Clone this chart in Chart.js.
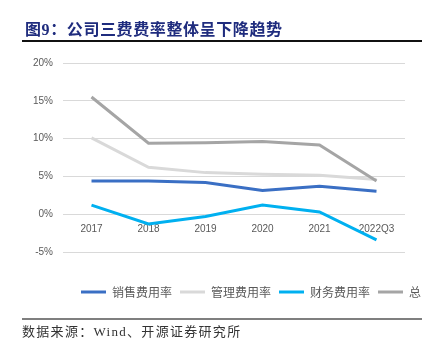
<!DOCTYPE html>
<html>
<head>
<meta charset="utf-8">
<script src="https://cdn.jsdelivr.net/npm/chart.js@4"></script>
<style>
  html, body { margin: 0; padding: 0; background: #fff; width: 422px; height: 356px; overflow: hidden; }
  #wrap { position: relative; width: 422px; height: 356px; }
  #chart { position: absolute; left: 0; top: 0; width: 422px; height: 356px; }
  #title { position: absolute; left: 25px; top: 19px; font-family: "Liberation Serif", "Noto Sans CJK SC", serif; font-weight: bold; font-size: 16px; line-height: 22px; color: #1F2C7E; letter-spacing: 0.6px; white-space: nowrap; }
  #tline { position: absolute; left: 22px; top: 40px; width: 400px; height: 1.5px; background: #111; }
  #fline { position: absolute; left: 22px; top: 318px; width: 400px; height: 1.5px; background: #7f7f7f; }
  #foot { position: absolute; left: 22px; top: 323px; font-family: "Liberation Serif", "Noto Sans CJK SC", serif; font-size: 13px; line-height: 18px; color: #333; letter-spacing: 1.3px; white-space: nowrap; }
</style>
</head>
<body>
<div id="wrap">
  <canvas id="chart" width="422" height="356"></canvas>
  <div id="title">图9：公司三费费率整体呈下降趋势</div>
  <div id="tline"></div>
  <div id="fline"></div>
  <div id="foot">数据来源：Wind、开源证券研究所</div>
</div>
<script>
const categories = ['2017', '2018', '2019', '2020', '2021', '2022Q3'];
const seriesNames = ['销售费用率', '管理费用率', '财务费用率', '总'];
const salesRate = [4.4, 4.4, 4.2, 3.15, 3.7, 3.05];
const adminRate = [10.1, 6.2, 5.5, 5.3, 5.15, 4.6];
const financeRate = [1.2, -1.3, -0.3, 1.2, 0.3, -3.4];
const totalRate = [15.5, 9.4, 9.45, 9.6, 9.15, 4.4];
const yTicks = [-5, 0, 5, 10, 15, 20];

const colors = ['#3A6FC4', '#D9D9D9', '#00B0F0', '#A5A5A5'];
const seriesValues = [salesRate, adminRate, financeRate, totalRate];

const datasets = seriesValues.map((vals, i) => ({
  label: seriesNames[i],
  data: vals,
  borderColor: colors[i],
  backgroundColor: colors[i],
  borderWidth: 3,
  pointRadius: 0,
  pointHoverRadius: 0,
  tension: 0,
  fill: false,
  order: seriesValues.length - i
}));

const legendPlacer = {
  id: 'legendPlacer',
  afterLayout(chart) {
    const lg = chart.legend;
    if (!lg) return;
    const h = lg.height;
    lg.top = 278;
    lg.bottom = 278 + h;
    lg.left = 73;
    lg.right = 460;
  }
};

new Chart(document.getElementById('chart'), {
  type: 'line',
  data: { labels: categories, datasets },
  plugins: [legendPlacer],
  options: {
    responsive: false,
    animation: false,
    devicePixelRatio: 1,
    layout: { padding: { top: 63, left: 0, right: 17, bottom: 74 } },
    plugins: {
      title: { display: false },
      tooltip: { enabled: false },
      legend: {
        position: 'bottom',
        align: 'start',
        labels: {
          boxWidth: 25,
          boxHeight: 3,
          padding: 8,
          color: '#595959',
          font: { family: '"Noto Sans CJK SC", sans-serif', size: 12 },
          sort: (a, b) => a.datasetIndex - b.datasetIndex,
          generateLabels(chart) {
            const items = Chart.defaults.plugins.legend.labels.generateLabels(chart);
            return items.map(it => Object.assign(it, { lineWidth: 0, fillStyle: colors[it.datasetIndex], strokeStyle: colors[it.datasetIndex] }));
          }
        }
      }
    },
    scales: {
      x: {
        type: 'category',
        offset: true,
        position: { y: 0 },
        grid: { display: false, drawTicks: false },
        border: { display: false },
        ticks: {
          color: '#595959',
          padding: 9,
          maxRotation: 0,
          autoSkip: false,
          font: { family: '"Liberation Sans", Arial, sans-serif', size: 10 }
        }
      },
      y: {
        min: -5,
        max: 20,
        afterFit: s => { s.width = 63; },
        afterBuildTicks: s => { s.ticks = yTicks.map(v => ({ value: v })); },
        grid: { color: '#D9D9D9', lineWidth: 1, drawTicks: false },
        border: { display: false },
        ticks: {
          color: '#595959',
          padding: 10,
          font: { family: '"Liberation Sans", Arial, sans-serif', size: 10 },
          callback: v => v + '%'
        }
      }
    }
  }
});
</script>
</body>
</html>
